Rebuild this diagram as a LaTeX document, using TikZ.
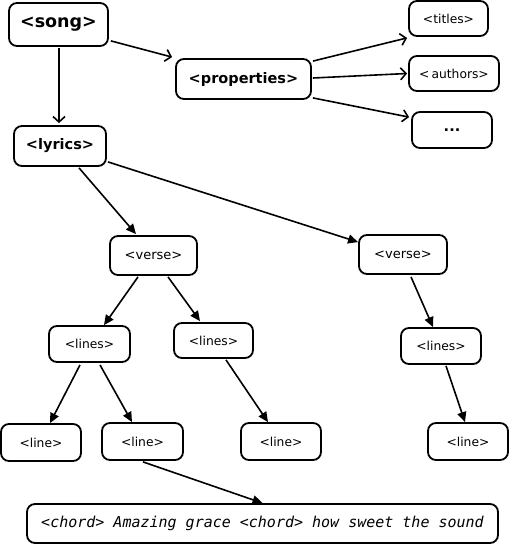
\documentclass[tikz,border=0pt]{standalone}
\usepackage{fontspec}
\setmainfont{DejaVu Sans}
\newfontfamily\monoit{DejaVu Sans Mono Oblique}
\usetikzlibrary{arrows.meta,calc}
\tikzset{
  box/.style={draw, line width=1.8pt, rounded corners=8pt, inner sep=0pt, fill=white},
  big/.style={box, font=\fontsize{17.5}{20}\selectfont\bfseries},
  mid/.style={box, font=\fontsize{14.5}{17}\selectfont\bfseries},
  small/.style={box, font=\fontsize{12.3}{14}\selectfont},
  openarr/.style={line width=1.6pt, -{Straight Barb[length=5.5pt,width=12pt,line width=1.6pt]}},
  fillarr/.style={line width=1.6pt, -{Triangle[length=10pt,width=9pt]}},
}
\begin{document}
\begin{tikzpicture}[x=1pt,y=-1pt]
\useasboundingbox (0,0) rectangle (509,544);
\node[big, minimum width=99pt, minimum height=43pt] (song) at (58.5,24.5) {<song>};
\node[mid, minimum width=135pt, minimum height=40pt] (properties) at (243.5,79) {<properties>};
\node[mid, minimum width=92pt, minimum height=40pt] (lyrics) at (60,146) {<lyrics>};
\node[small, minimum width=79pt, minimum height=35pt] (titles) at (448.5,18.5) {<titles>};
\node[small, minimum width=90pt, minimum height=35pt] (authors) at (454,73.5) {<\,authors>};
\node[mid, minimum width=80pt, minimum height=36pt] (dots) at (452,130) {...};
\node[small, minimum width=87pt, minimum height=39pt, font=\fontsize{13}{15}\selectfont] (verse1) at (153.5,255.5) {<verse>};
\node[small, minimum width=88pt, minimum height=39pt, font=\fontsize{13}{15}\selectfont] (verse2) at (403,254.5) {<verse>};
\node[small, minimum width=81pt, minimum height=36pt] (lines1) at (89.5,344) {<lines>};
\node[small, minimum width=79pt, minimum height=35pt] (lines2) at (213.5,340.5) {<lines>};
\node[small, minimum width=80pt, minimum height=36pt] (lines3) at (441,346) {<lines>};
\node[small, minimum width=80pt, minimum height=37pt] (line1) at (41,442.5) {<line>};
\node[small, minimum width=81pt, minimum height=37pt] (line2) at (142.5,441.5) {<line>};
\node[small, minimum width=80pt, minimum height=37pt] (line3) at (281,441.5) {<line>};
\node[small, minimum width=80pt, minimum height=37pt] (line4) at (468,441.5) {<line>};
\node[box, minimum width=471pt, minimum height=39pt, font=\fontsize{15}{17}\monoit] (chord) at (262.5,523.5) {<chord> Amazing grace <chord> how sweet the sound};

\draw[openarr] ($(song.south east)+(2,-6)$) -- ($(properties.north west)+(-3,-1)$);
\draw[openarr] ($(song.south)+(0.5,1)$) -- ($(song.south |- lyrics.north)+(0.5,-2)$);
\draw[openarr] ($(properties.north east)+(1,3)$) -- ($(titles.south west)+(-1,1)$);
\draw[openarr] ($(properties.east)+(1,-1)$) -- ($(authors.west)+(-1,0)$);
\draw[openarr] ($(properties.south east)+(1,-2)$) -- ($(dots.north west)+(-2,6)$);

\draw[fillarr] ($(lyrics.south)+(19,1)$) -- ($(verse1.north)+(-17.5,-1)$);
\draw[fillarr] ($(lyrics.south east)+(1,-5)$) -- ($(verse2.north west)+(0,8)$);
\draw[fillarr] ($(verse1.south)+(-15.5,1)$) -- ($(lines1.north)+(14.5,0)$);
\draw[fillarr] ($(verse1.south)+(14.5,1)$) -- ($(lines2.north)+(-13.5,-1)$);
\draw[fillarr] ($(verse2.south)+(8,2)$) -- ($(lines3.north)+(-8,0)$);
\draw[fillarr] ($(lines3.south)+(5,1)$) -- ($(line4.north)+(-3,0)$);
\draw[fillarr] ($(lines1.south)+(-9.5,2)$) -- ($(line1.north)+(9,0)$);
\draw[fillarr] ($(lines1.south)+(10.5,2)$) -- ($(line2.north)+(-10.5,0)$);
\draw[fillarr] ($(lines2.south)+(12.5,1)$) -- ($(line3.north)+(-13,0)$);
\draw[fillarr] ($(line2.south)+(0.5,1)$) -- (chord.north);
\end{tikzpicture}
\end{document}
